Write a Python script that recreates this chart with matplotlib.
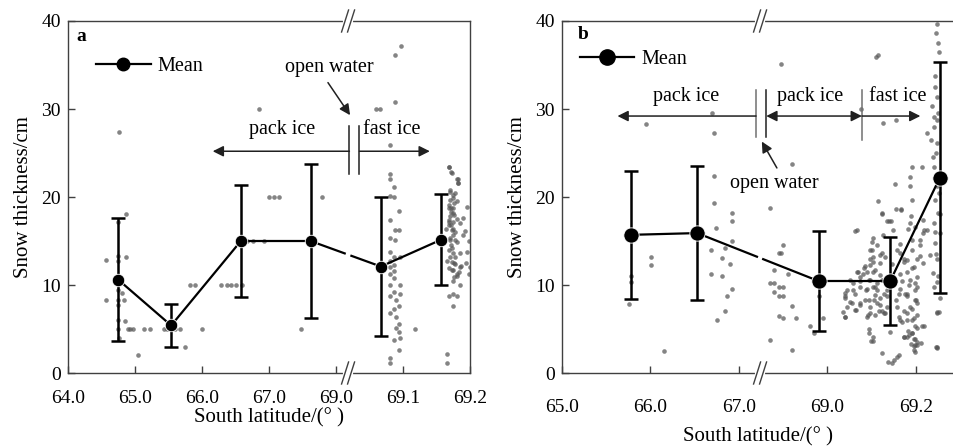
import numpy as np
import matplotlib.pyplot as plt
from matplotlib.lines import Line2D
from matplotlib import transforms

plt.rcParams['font.family'] = ['Liberation Serif', 'DejaVu Serif']

# ---------------- data: panel a ----------------
mean_lat_a = [64.75, 65.54, 66.58, 67.62, 69.067, 69.157]
mean_a = [10.6, 5.4, 15.0, 15.0, 12.1, 15.15]
sd_a = [7.0, 2.45, 6.35, 8.7, 7.9, 5.15]

pts_lat_a = [64.56, 64.56, 64.86, 64.75, 64.75, 64.86, 64.75, 64.75, 64.81, 64.75,
             64.83, 64.75, 64.75, 64.85, 64.75, 64.89, 64.93, 64.97, 65.14, 65.23,
             65.43, 65.48, 65.59, 65.67, 66.00, 65.75, 65.04, 65.82, 65.90, 66.29,
             66.38, 66.43, 66.51, 66.59, 66.67, 66.76, 66.93, 67.00, 67.08, 67.15,
             67.79, 67.48, 66.85, 64.76, 64.76,
             69.097, 69.088, 69.088, 69.059, 69.066, 69.080,
             69.080, 69.080, 69.086, 69.080, 69.086, 69.094, 69.080, 69.088, 69.094, 69.080,
             69.088, 69.080, 69.086, 69.096, 69.080, 69.086, 69.080, 69.086, 69.080, 69.086,
             69.096, 69.081, 69.096, 69.086, 69.080, 69.090, 69.094, 69.086, 69.080, 69.090,
             69.094, 69.090, 69.094, 69.086, 69.094, 69.080, 69.080, 69.096, 69.118,
             69.169, 69.173, 69.181, 69.182, 69.170, 69.175, 69.180, 69.169, 69.195, 69.175,
             69.170, 69.180, 69.185, 69.169, 69.175, 69.190, 69.170, 69.180, 69.173, 69.196,
             69.185, 69.178, 69.166, 69.194, 69.185, 69.200, 69.173, 69.180, 69.174, 69.185,
             69.175, 69.169, 69.180, 69.174, 69.166, 69.166, 69.172, 69.178, 69.176, 69.171,
             69.183, 69.168, 69.177, 69.199, 69.199,
             69.168, 69.171, 69.182, 69.182, 69.170, 69.174, 69.170, 69.176, 69.168, 69.175,
             69.171, 69.176, 69.168, 69.175, 69.171, 69.164, 69.173, 69.175, 69.170, 69.190,
             69.192, 69.178, 69.168, 69.175, 69.170, 69.173, 69.178, 69.186, 69.168, 69.175,
             69.181, 69.176]
pts_a = [12.8, 8.3, 18.1, 17.2, 13.3, 13.2, 12.7, 9.4, 9.05, 8.3,
         8.3, 7.7, 6.0, 5.9, 5.0, 5.0, 5.0, 5.0, 5.0, 5.0,
         5.0, 5.0, 5.0, 5.0, 5.0, 2.95, 2.0, 10.0, 10.0, 10.0,
         10.0, 10.0, 10.0, 10.0, 15.0, 15.0, 15.0, 20.0, 20.0, 20.0,
         20.0, 5.0, 30.0, 27.4, 4.0,
         37.2, 36.1, 30.8, 30.0, 30.0, 25.9,
         22.6, 22.1, 21.1, 20.1, 20.0, 18.4, 17.4, 16.3, 16.3, 15.3,
         15.1, 13.8, 13.2, 13.2, 12.7, 12.3, 12.0, 11.6, 11.2, 10.8,
         10.0, 10.0, 9.0, 9.2, 8.7, 8.3, 7.6, 7.3, 6.8, 6.4,
         5.6, 5.1, 4.7, 3.7, 2.6, 1.7, 1.1, 4.0, 5.0,
         23.4, 22.7, 22.1, 21.6, 20.8, 20.2, 19.5, 19.1, 18.9, 18.2,
         17.8, 17.5, 17.0, 16.8, 16.4, 15.7, 15.3, 14.9, 14.2, 13.8,
         13.6, 13.2, 12.7, 12.5, 12.1, 12.0, 11.7, 11.0, 10.4, 10.0,
         9.0, 8.8, 8.8, 7.6, 2.2, 1.1, 18.8, 16.0, 12.5, 14.5,
         11.5, 17.2, 20.5, 15.0, 11.2,
         23.4, 22.8, 22.1, 21.6, 20.6, 19.9, 19.7, 19.3, 18.7, 18.7,
         18.3, 18.0, 17.4, 17.2, 16.8, 16.4, 16.2, 15.7, 15.1, 17.6,
         16.1, 15.1, 14.0, 13.6, 13.2, 12.6, 12.4, 12.2, 11.9, 11.7,
         11.3, 10.9]

ticks_a = [64.0, 65.0, 66.0, 67.0, 69.0, 69.1, 69.2]

# ---------------- data: panel b ----------------
mean_lat_b = [65.78, 66.53, 68.98, 69.142, 69.254]
mean_b = [15.7, 15.9, 10.45, 10.45, 22.2]
sd_b = [7.25, 7.65, 5.7, 4.95, 13.1]

pts_lat_b = [65.95, 66.01, 66.01, 65.78, 65.78, 65.76, 66.15, 66.70, 66.72, 66.72,
             66.72, 66.74, 66.92, 66.92, 66.92, 66.84, 66.81, 66.69, 66.90, 66.69,
             66.81, 66.92, 66.87, 66.84, 66.75,
             68.895, 68.92, 68.87, 68.90, 68.89, 68.895, 68.88, 68.91, 68.87, 68.88,
             68.89, 68.90, 68.88, 68.89, 68.90, 68.92, 68.89, 68.90, 68.93, 68.96,
             68.97, 68.87, 68.92, 68.98, 68.99,
             69.066, 69.04, 69.04, 69.11, 69.126, 69.154, 69.075, 69.115,
             69.247, 69.245, 69.250, 69.251, 69.244, 69.247, 69.236, 69.241, 69.247, 69.240,
             69.226, 69.247, 69.245, 69.241, 69.255, 69.247, 69.244, 69.249, 69.240, 69.255,
             69.244, 69.247, 69.238, 69.247, 69.247, 69.251, 69.246,
             69.243, 69.250, 69.238, 69.252, 69.242, 69.250, 69.240, 69.245, 69.255, 69.235,
             69.191, 69.213, 69.187, 69.152, 69.187, 69.115, 69.167, 69.191, 69.217, 69.140,
             69.123, 69.149, 69.183, 69.224, 69.063, 69.104, 69.210, 69.165, 69.101, 69.123,
             69.191, 69.097, 69.210, 69.119, 69.172, 69.085, 69.104, 69.180, 69.074, 69.093,
             69.123, 69.187, 69.202, 69.059, 69.108, 69.165, 69.127, 69.180, 69.198, 69.093,
             69.112, 69.074, 69.134, 69.187, 69.202, 69.044, 69.097, 69.123, 69.180, 69.195,
             69.165, 69.202, 69.183, 69.093, 69.142, 69.198, 69.191, 69.180, 69.202, 69.104,
             69.150, 69.157, 69.123, 69.202, 69.195,
             69.040, 69.051, 69.062, 69.069, 69.080, 69.084, 69.092, 69.099, 69.103, 69.096,
             69.113, 69.120, 69.128, 69.135, 69.137, 69.146, 69.154, 69.161, 69.173, 69.180,
             69.188, 69.195, 69.191, 69.199, 69.176, 69.165, 69.203, 69.195, 69.180, 69.191,
             69.158, 69.103, 69.088, 69.073, 69.058, 69.106, 69.218, 69.215, 69.218, 69.211,
             69.248, 69.255, 69.036,
             69.123, 69.134, 69.143, 69.155, 69.167, 69.187, 69.189, 69.198, 69.101, 69.113,
             69.125, 69.097, 69.119, 69.131, 69.103, 69.165, 69.172, 69.191, 69.202, 69.217,
             69.210, 69.083, 69.089, 69.108, 69.118, 69.067, 69.051, 69.073, 69.097, 69.112,
             69.168, 69.184, 69.199, 69.044, 69.063, 69.089, 69.108, 69.119, 69.134, 69.161,
             69.180, 69.201, 69.040, 69.055, 69.074, 69.097, 69.116, 69.131, 69.157, 69.172,
             69.191, 69.202, 69.065, 69.089, 69.108, 69.040, 69.168, 69.191, 69.198, 69.214,
             69.093, 69.172, 69.184, 69.195, 69.198, 69.104, 69.198, 69.161, 69.146, 69.247,
             69.247, 69.232]
pts_b = [28.3, 13.2, 12.3, 11.0, 10.3, 7.8, 2.5, 29.6, 27.3, 22.4,
         19.3, 16.5, 18.2, 17.3, 15.0, 14.2, 13.1, 14.0, 12.4, 11.2,
         11.0, 9.5, 8.7, 7.1, 6.0,
         35.1, 23.7, 18.8, 14.5, 13.6, 13.6, 11.7, 11.3, 10.2, 10.2,
         9.8, 9.8, 9.2, 8.7, 8.7, 7.6, 6.5, 6.2, 6.2, 5.3,
         4.5, 3.7, 2.6, 8.8, 6.2,
         16.25, 8.75, 6.4, 35.9, 28.4, 28.8, 30.0, 36.1,
         39.7, 38.6, 37.5, 36.5, 32.5, 31.4, 30.3, 29.1, 28.8, 28.0,
         27.3, 26.1, 25.0, 23.4, 22.3, 21.2, 19.7, 18.2, 17.0, 15.9,
         14.8, 12.9, 11.4, 10.3, 6.9, 6.9, 2.9,
         33.8, 29.5, 24.5, 20.5, 16.0, 11.0, 9.8, 13.5, 8.5, 26.5,
         23.4, 23.4, 22.3, 21.5, 21.2, 19.5, 18.5, 19.7, 17.4, 17.3,
         18.2, 16.2, 16.4, 16.2, 16.1, 15.3, 15.1, 14.7, 14.0, 13.6,
         14.0, 12.9, 13.3, 12.5, 12.9, 12.2, 11.5, 11.5, 10.9, 10.6,
         10.6, 10.6, 10.9, 10.2, 9.8, 9.6, 9.0, 9.0, 9.4, 8.3,
         8.0, 7.7, 7.5, 7.5, 8.0, 7.5, 6.8, 7.0, 6.8, 6.2,
         6.0, 5.1, 4.8, 5.0, 4.7, 3.9, 4.5, 4.1, 3.2, 4.1,
         1.5, 1.8, 2.3, 3.5, 3.1,
         9.05, 8.1, 7.2, 11.5, 11.3, 8.3, 6.6, 3.6, 13.2, 12.3,
         9.4, 7.7, 6.8, 9.4, 1.3, 12.4, 8.3, 6.4, 4.1, 6.0,
         3.3, 2.6, 4.5, 8.3, 9.0, 11.3, 9.8, 12.1, 12.8, 15.1,
         14.0, 9.8, 9.4, 9.8, 9.4, 8.3, 16.25, 12.5, 5.3, 3.4,
         2.8, 18.1, 6.9,
         18.1, 17.3, 17.3, 18.6, 18.6, 17.1, 17.8, 16.6, 14.9, 14.5,
         15.7, 14.0, 13.4, 13.2, 12.6, 13.6, 12.6, 11.9, 13.0, 15.9,
         14.5, 11.9, 11.5, 11.7, 11.1, 11.5, 10.6, 10.4, 10.6, 10.2,
         10.4, 10.0, 10.2, 9.4, 9.0, 9.6, 8.9, 8.5, 8.7, 9.0,
         8.7, 8.3, 8.5, 7.9, 7.9, 7.5, 7.0, 6.8, 7.5, 7.0,
         7.3, 6.6, 7.2, 6.4, 6.6, 6.4, 5.8, 6.0, 5.3, 5.3,
         4.5, 4.1, 4.3, 3.9, 3.2, 3.6, 2.4, 2.0, 1.1, 3.0,
         6.8, 13.4]

ticks_b = [65.0, 66.0, 67.0, 69.0, 69.2]


# axis position of a latitude (broken axis: degrees on the left, tenths on the right)
def pos_a(lat):
    lat = np.asarray(lat, dtype=float)
    return np.where(lat < 68.5, lat - 64.0, 4.0 + (lat - 69.0) * 10.0)


def pos_b(lat):
    lat = np.asarray(lat, dtype=float)
    return np.where(lat < 68.0, lat - 65.0, 3.0 + (lat - 69.0) * 5.0)


fig = plt.figure(figsize=(9.54, 4.48), dpi=100)
ax_a = fig.add_axes([68 / 954, 1 - 373 / 448, 402 / 954, 352 / 448])
ax_b = fig.add_axes([561.7 / 954, 1 - 373 / 448, 392.3 / 954, 352 / 448])

spine_col = '#404040'


def style_axes(ax, xmax, ticks, posf, xpad, xlabelpad):
    ax.set_xlim(0, xmax)
    ax.set_ylim(0, 40)
    ax.set_yticks([0, 10, 20, 30, 40])
    ax.set_xticks(posf(ticks))
    ax.set_xticklabels(['%.1f' % t for t in ticks])
    ax.tick_params(direction='in', length=5, width=1, colors=spine_col,
                   labelcolor='black', labelsize=14)
    ax.tick_params(axis='x', pad=xpad)
    ax.tick_params(axis='y', pad=5)
    for s in ax.spines.values():
        s.set_color(spine_col)
        s.set_linewidth(1.0)
    ax.set_xlabel('South latitude/(\u00b0 )', fontsize=15, labelpad=xlabelpad)
    ax.set_ylabel('Snow thickness/cm', fontsize=15, labelpad=6)


def draw_break(ax, u):
    # "//" marks on top and bottom spine
    pos = ax.get_position()
    wpx = pos.width * fig.get_figwidth() * fig.dpi
    hpx = pos.height * fig.get_figheight() * fig.dpi
    x0, x1 = ax.get_xlim()
    du = (x1 - x0) / wpx
    dy = 1.0 / hpx
    trans = transforms.blended_transform_factory(ax.transData, ax.transAxes)
    for y in (0.0, 1.0):
        ax.plot([u - 3 * du, u + 3 * du], [y, y], color='white', lw=3,
                transform=trans, clip_on=False, zorder=6)
        for off in (-3, 3):
            ax.plot([u + (off - 3.5) * du, u + (off + 3.5) * du],
                    [y - 11 * dy, y + 11 * dy], color=spine_col, lw=1.0,
                    transform=trans, clip_on=False, zorder=7)


def draw_means(ax, x, y, sd, ms, brk, gap):
    ax.errorbar(x, y, yerr=sd, fmt='none', ecolor='black', elinewidth=1.8,
                capsize=4.8, capthick=1.8, zorder=3)
    for i in range(len(x) - 1):
        xs = [x[i], x[i + 1]]
        ys = [y[i], y[i + 1]]
        if x[i] < brk < x[i + 1]:
            yb1 = np.interp(brk - gap, xs, ys)
            yb2 = np.interp(brk + gap, xs, ys)
            ax.plot([x[i], brk - gap], [y[i], yb1], color='black', lw=1.6, zorder=3)
            ax.plot([brk + gap, x[i + 1]], [yb2, y[i + 1]], color='black', lw=1.6, zorder=3)
        else:
            ax.plot(xs, ys, color='black', lw=1.6, zorder=3)
    ax.plot(x, y, 'o', color='black', ms=ms, mec='white', mew=0.6, zorder=4)


arrow_kw = dict(arrowstyle='-|>', color='#202020', lw=1.1, mutation_scale=16,
                shrinkA=0, shrinkB=0)
dot_kw = dict(s=11, color='#555555', alpha=0.72, lw=0, zorder=2)

# ---------------- panel a ----------------
ax = ax_a
style_axes(ax, 6.0, ticks_a, pos_a, 12.5, 0.5)
ax.scatter(pos_a(pts_lat_a), pts_a, **dot_kw)
brk_a = 4.18
draw_means(ax, pos_a(mean_lat_a), mean_a, sd_a, 9, brk_a, 0.05)
draw_break(ax, brk_a)
ax.text(0.022, 0.957, 'a', transform=ax.transAxes, fontsize=14, fontweight='bold',
        ha='left', va='center')
ax.legend([Line2D([], [], color='black', lw=1.6, marker='o', ms=9)], ['Mean'],
          loc='upper left', bbox_to_anchor=(0.025, 0.95), frameon=False,
          fontsize=14.5, handlelength=2.7, handletextpad=0.35)

ax.text(3.9, 34.7, 'open water', fontsize=14.5, ha='center', va='center')
ax.annotate('', xy=(4.21, 29.3), xytext=(3.88, 33.0), arrowprops=arrow_kw)
ax.plot([4.20, 4.20], [22.6, 28.1], color='#202020', lw=1.1)
ax.plot([4.35, 4.35], [22.6, 28.1], color='#202020', lw=1.1)
ax.annotate('', xy=(2.16, 25.2), xytext=(4.20, 25.2), arrowprops=arrow_kw)
ax.annotate('', xy=(5.40, 25.2), xytext=(4.35, 25.2), arrowprops=arrow_kw)
ax.text(3.19, 27.7, 'pack ice', fontsize=14.5, ha='center', va='center')
ax.text(4.40, 27.7, 'fast ice', fontsize=14.5, ha='left', va='center')

# ---------------- panel b ----------------
ax = ax_b
style_axes(ax, 4.43, ticks_b, pos_b, 18.5, 8.0)
ax.spines['right'].set_visible(False)
ax.scatter(pos_b(pts_lat_b), pts_b, **dot_kw)
brk_b = 2.24
draw_means(ax, pos_b(mean_lat_b), mean_b, sd_b, 11, brk_b, 0.035)
draw_break(ax, brk_b)
ax.text(0.042, 0.963, 'b', transform=ax.transAxes, fontsize=14, fontweight='bold',
        ha='left', va='center')
ax.legend([Line2D([], [], color='black', lw=1.6, marker='o', ms=11)], ['Mean'],
          loc='upper left', bbox_to_anchor=(0.0, 0.97), frameon=False,
          fontsize=14.5, handlelength=2.7, handletextpad=0.35)

ax.plot([2.195, 2.195], [26.8, 32.2], color='#707070', lw=1.1)
ax.plot([2.31, 2.31], [26.8, 32.2], color='#202020', lw=1.1)
ax.plot([3.39, 3.39], [26.5, 32.2], color='#707070', lw=1.1)
ax.annotate('', xy=(0.63, 29.2), xytext=(2.195, 29.2), arrowprops=arrow_kw)
ax.annotate('', xy=(2.31, 29.2), xytext=(3.39, 29.2),
            arrowprops=dict(arrow_kw, arrowstyle='<|-|>'))
ax.annotate('', xy=(4.05, 29.2), xytext=(3.39, 29.2), arrowprops=arrow_kw)
ax.text(1.40, 31.4, 'pack ice', fontsize=14.5, ha='center', va='center')
ax.text(2.81, 31.4, 'pack ice', fontsize=14.5, ha='center', va='center')
ax.text(3.79, 31.4, 'fast ice', fontsize=14.5, ha='center', va='center')
ax.text(2.40, 21.55, 'open water', fontsize=14.5, ha='center', va='center')
ax.annotate('', xy=(2.26, 26.3), xytext=(2.43, 23.3), arrowprops=arrow_kw)

fig.savefig('out.png', dpi=100)
